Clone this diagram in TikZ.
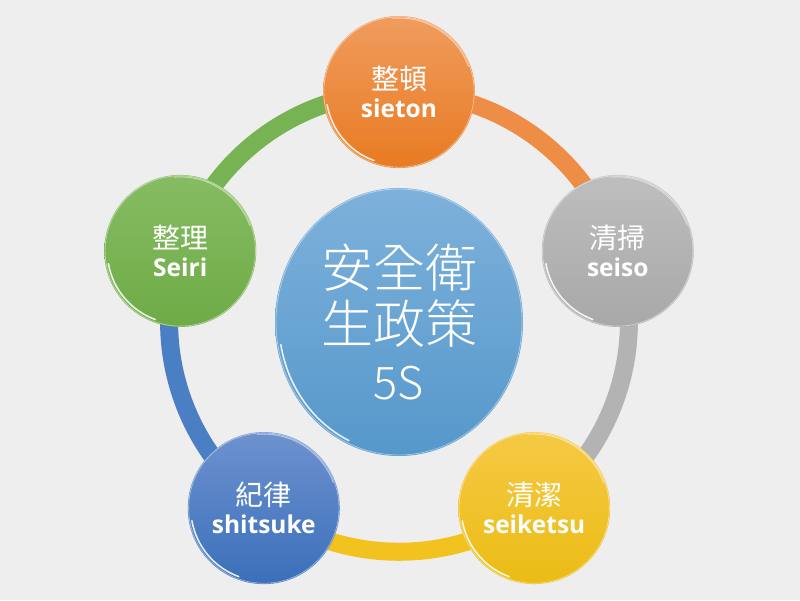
\documentclass[tikz,border=0pt]{standalone}
\usepackage{fontspec}
\newfontfamily\cjkL{Noto Sans CJK TC Light}
\newfontfamily\cjkR{Noto Sans CJK TC}
\newfontfamily\latB{Open Sans}
\usetikzlibrary{shapes.geometric}
\pgfdeclarelayer{bg}
\pgfsetlayers{bg,main}
\definecolor{bgc}{HTML}{EEEEEE}
\definecolor{orT}{HTML}{F09C5E}\definecolor{orB}{HTML}{E87B22}\definecolor{orA}{HTML}{EE8D45}
\definecolor{grT}{HTML}{BEBEBE}\definecolor{grB}{HTML}{A8A8A8}\definecolor{grA}{HTML}{B3B3B3}
\definecolor{yeT}{HTML}{F6C945}\definecolor{yeB}{HTML}{EBBC14}\definecolor{yeA}{HTML}{F2C21E}
\definecolor{blT}{HTML}{6E92CF}\definecolor{blB}{HTML}{3A6FBA}\definecolor{blA}{HTML}{4A7FC4}
\definecolor{gnT}{HTML}{86BC63}\definecolor{gnB}{HTML}{6EAB46}\definecolor{gnA}{HTML}{77B352}
\definecolor{ceT}{HTML}{7EB1DB}\definecolor{ceB}{HTML}{5598CB}
\tikzset{
  sat/.style={circle, minimum size=152pt, inner sep=0pt, align=center, text=white,
    font=\fontsize{26}{28}\selectfont},
  band/.style={line width=18pt, line cap=butt},
  glint/.style={white, line width=1.6pt, opacity=0.85, line cap=round},
  rim/.style={white, line width=0.8pt, opacity=0.45},
}
\newcommand{\cj}[1]{{\cjkR\fontsize{28}{28}\selectfont #1}}
\newcommand{\lb}[1]{{\latB\bfseries\fontsize{24.5}{28}\selectfont #1}}
\newcommand{\decor}[1]{%
  \draw[rim] (#1.center) circle[radius=75.2pt];
  \draw[glint] ([shift={(190:73pt)}]#1.center) arc[start angle=190, end angle=250, radius=73pt];
  \draw[white, line width=1pt, opacity=0.5] ([shift={(20:74pt)}]#1.center) arc[start angle=20, end angle=95, radius=74pt];
}
\begin{document}
\begin{tikzpicture}[x=1pt,y=1pt]
\begin{pgfonlayer}{bg}
\fill[bgc] (0,0) rectangle (800,600);
\end{pgfonlayer}
\useasboundingbox (0,0) rectangle (800,600);
\begin{scope}[shift={(399,278)}]
  \node[ellipse, minimum width=248pt, minimum height=268pt, inner sep=0pt,
        top color=ceT, bottom color=ceB, align=center, text=white,
        font=\cjkL\fontsize{52}{56}\selectfont] (center) at (0,0)
        {安全衛\\生政策\\{\fontsize{45}{52}\selectfont 5S}};
  \node[sat, top color=orT, bottom color=orB] (sieton) at (90:230) {\cj{整頓}\\\lb{sieton}};
  \node[sat, top color=grT, bottom color=grB] (seiso) at (18:230) {\cj{清掃}\\\lb{seiso}};
  \node[sat, top color=yeT, bottom color=yeB] (seiketsu) at (-54:230) {\cj{清潔}\\\lb{seiketsu}};
  \node[sat, top color=blT, bottom color=blB] (shitsuke) at (-126:230) {\cj{紀律}\\\lb{shitsuke}};
  \node[sat, top color=gnT, bottom color=gnB] (seiri) at (162:230) {\cj{整理}\\\lb{Seiri}};
\end{scope}
\decor{sieton}\decor{seiso}\decor{seiketsu}\decor{shitsuke}\decor{seiri}
\draw[white, line width=0.8pt, opacity=0.45] (center.center) ellipse[x radius=123pt, y radius=133pt];
\draw[glint] ([shift={(190:120pt and 130pt)}]center.center) arc[start angle=190, end angle=245, x radius=121pt, y radius=131pt];
\begin{pgfonlayer}{bg}
  \draw[band, orA] (sieton.center) to[bend left=36, looseness=0.94] (seiso.center);
  \draw[band, grA] (seiso.center) to[bend left=36, looseness=0.94] (seiketsu.center);
  \draw[band, yeA] (seiketsu.center) to[bend left=36, looseness=0.94] (shitsuke.center);
  \draw[band, blA] (shitsuke.center) to[bend left=36, looseness=0.94] (seiri.center);
  \draw[band, gnA] (seiri.center) to[bend left=36, looseness=0.94] (sieton.center);
\end{pgfonlayer}
\end{tikzpicture}
\end{document}
